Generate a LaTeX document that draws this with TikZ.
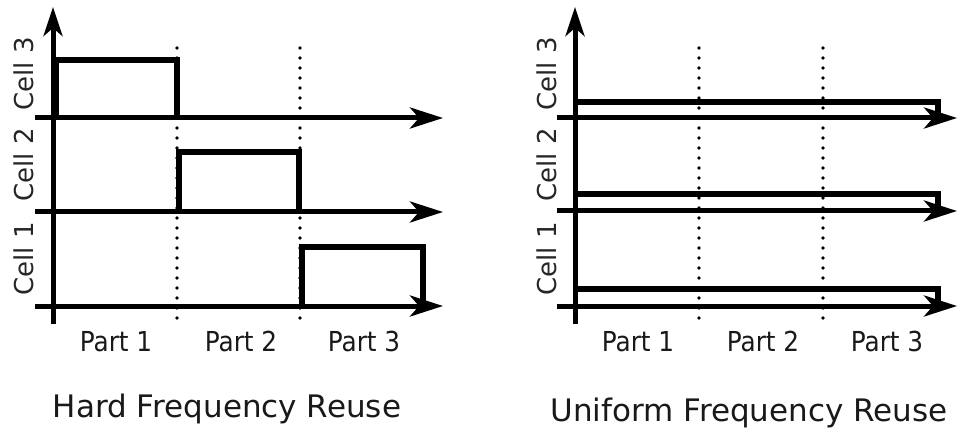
\documentclass[tikz,border=0pt]{standalone}
\usepackage{fontspec}
\setmainfont{DejaVu Sans}
\usetikzlibrary{arrows.meta}

\tikzset{
  axis/.style={line width=5pt, -{Stealth[length=33pt,width=21pt,inset=9pt]}},
  yaxis/.style={line width=5pt, -{Stealth[length=29pt,width=19pt,inset=8pt]}},
  band/.style={line width=5.5pt, line join=miter},
  divider/.style={line width=3.8pt, line cap=round, dash pattern=on 0pt off 10pt},
  celllabel/.style={rotate=90, inner sep=0pt, font=\fontsize{26}{30}\selectfont, text=black!85},
  partlabel/.style={anchor=base, inner sep=0pt, font=\fontsize{27.5}{32}\selectfont, text=black!90},
  title/.style={anchor=base, inner sep=0pt, font=\fontsize{31}{36}\selectfont, text=black!90}
}

\begin{document}
\begin{tikzpicture}[x=1pt, y=-1pt]
\useasboundingbox (0,0) rectangle (958,430);

% ---------------- Hard frequency reuse ----------------
% part boundaries
\coordinate (hd1t) at (177,48);  \coordinate (hd1b) at (177,324);
\coordinate (hd2t) at (300,48);  \coordinate (hd2b) at (300,324);
\draw[divider] (hd1t) -- (hd1b);
\draw[divider] (hd2t) -- (hd2b);

% one third of the band per cell
\draw[band] (56,118) -- (56,60) -- (177,60) -- (177,118);
\draw[band] (179,212) -- (179,152) -- (299,152) -- (299,212);
\draw[band] (302,306) -- (302,247) -- (423,247) -- (423,306);

% axes
\coordinate (hy0) at (53,324);  \coordinate (hy1) at (53,7);
\coordinate (h3a) at (35,118);  \coordinate (h3b) at (443,118);
\coordinate (h2a) at (35,212);  \coordinate (h2b) at (443,212);
\coordinate (h1a) at (35,306);  \coordinate (h1b) at (443,306);
\draw[yaxis] (hy0) -- (hy1);
\draw[axis] (h3a) -- (h3b);
\draw[axis] (h2a) -- (h2b);
\draw[axis] (h1a) -- (h1b);

\node[celllabel] (hc3) at (24,74)  {Cell 3};
\node[celllabel] (hc2) at (24,165) {Cell 2};
\node[celllabel] (hc1) at (24,259) {Cell 1};

\node[partlabel] (hp1) at (116,351) {\scalebox{0.9}[1]{Part 1}};
\node[partlabel] (hp2) at (241,351) {\scalebox{0.9}[1]{Part 2}};
\node[partlabel] (hp3) at (364,351) {\scalebox{0.9}[1]{Part 3}};

\node[title] (htitle) at (227,417) {Hard Frequency Reuse};

% ---------------- Uniform frequency reuse ----------------
\coordinate (ud1t) at (699,48);  \coordinate (ud1b) at (699,324);
\coordinate (ud2t) at (823,48);  \coordinate (ud2b) at (823,324);
\draw[divider] (ud1t) -- (ud1b);
\draw[divider] (ud2t) -- (ud2b);

% whole band at low power for every cell
\draw[band] (577,102) -- (938,102) -- (938,118);
\draw[band] (577,194) -- (938,194) -- (938,211);
\draw[band] (577,289) -- (938,289) -- (938,306);

\coordinate (uy0) at (575,324);  \coordinate (uy1) at (575,7);
\coordinate (u3a) at (557,118);  \coordinate (u3b) at (957,118);
\coordinate (u2a) at (557,211);  \coordinate (u2b) at (957,211);
\coordinate (u1a) at (557,306);  \coordinate (u1b) at (957,306);
\draw[yaxis] (uy0) -- (uy1);
\draw[axis] (u3a) -- (u3b);
\draw[axis] (u2a) -- (u2b);
\draw[axis] (u1a) -- (u1b);

\node[celllabel] (uc3) at (547,74)  {Cell 3};
\node[celllabel] (uc2) at (547,165) {Cell 2};
\node[celllabel] (uc1) at (547,259) {Cell 1};

\node[partlabel] (up1) at (638,351) {\scalebox{0.9}[1]{Part 1}};
\node[partlabel] (up2) at (763,351) {\scalebox{0.9}[1]{Part 2}};
\node[partlabel] (up3) at (887,351) {\scalebox{0.9}[1]{Part 3}};

\node[title] (utitle) at (749,421) {Uniform Frequency Reuse};
\end{tikzpicture}
\end{document}
